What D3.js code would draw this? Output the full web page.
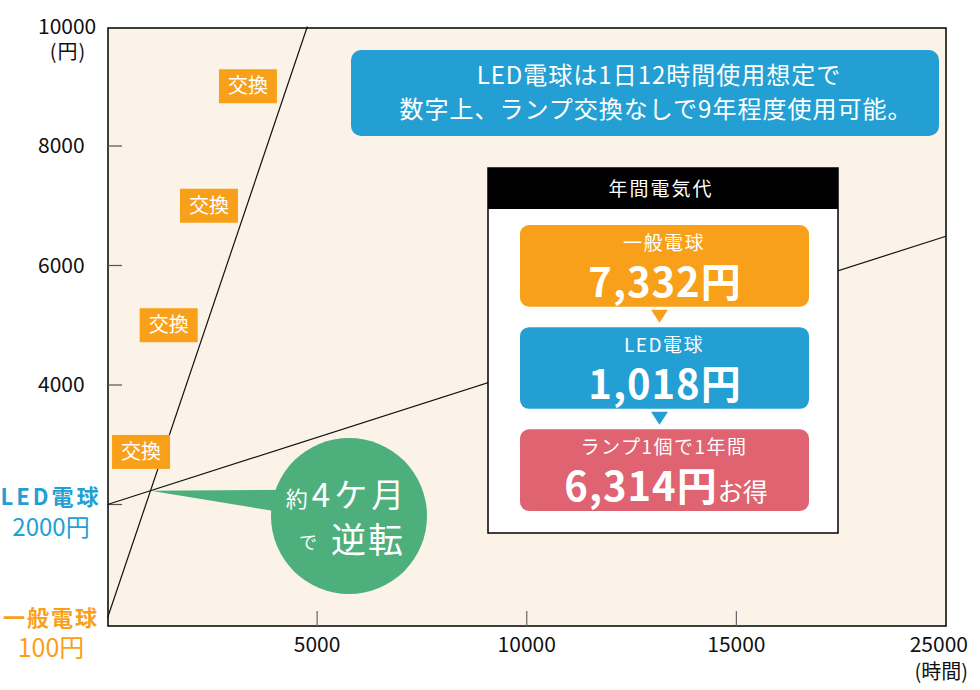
<!DOCTYPE html>
<html><head><meta charset="utf-8">
<script src="https://cdn.jsdelivr.net/npm/d3@7"></script>
<style>
html,body{margin:0;padding:0;background:#fff;}
svg{display:block;font-family:"Noto Sans CJK JP","Noto Sans",sans-serif;}
</style></head>
<body><svg id="c" width="980" height="690"></svg>
<script>
// ---- data ----
const yTicks = [4000, 6000, 8000, 10000];
const yTickMarks = [2000, 4000, 6000, 8000];
const xTicks = [5000, 10000, 15000, 20000];
const xTickLabels = ["5000", "10000", "15000", "25000"];
const generalLine = [{h: 0, v: 100}, {h: 4767, v: 10000}];
const ledLine = [{h: 0, v: 2000}, {h: 20000, v: 6490}];
const exchangePoints = [{h: 3350, v: 9000}, {h: 2420, v: 7000}, {h: 1460, v: 5000}, {h: 800, v: 2880}];
const costNames = ["一般電球", "LED電球", "ランプ1個で1年間"];
const costValues = [7332, 1018, 6314];
const costColors = ["#f9a01a", "#239fd3", "#df6370"];

// ---- setup ----
const svg = d3.select("#c");
const x = d3.scaleLinear().domain([0, 20000]).range([107.5, 946]);
const y = d3.scaleLinear().domain([0, 10000]).range([624, 26.5]);

// plot frame
svg.append("rect").attr("x", 108).attr("y", 28).attr("width", 838).attr("height", 598)
  .attr("fill", "#fbf3e7").attr("stroke", "#000").attr("stroke-width", 1.5);

// ticks
svg.append("g").selectAll("line").data(yTickMarks).join("line")
  .attr("x1", 108).attr("x2", 122).attr("y1", d => y(d)).attr("y2", d => y(d))
  .attr("stroke", "#555").attr("stroke-width", 1.2);
svg.append("g").selectAll("line").data(xTicks.slice(0, 3)).join("line")
  .attr("x1", d => x(d)).attr("x2", d => x(d)).attr("y1", 611).attr("y2", 626)
  .attr("stroke", "#666").attr("stroke-width", 1.2);

// tick labels
svg.append("g").selectAll("text").data(yTicks).join("text")
  .attr("x", 38).attr("y", d => y(d) + 7).attr("font-size", 21).attr("fill", "#111")
  .text(d => d);
svg.append("text").attr("x", 68).attr("y", 59).attr("text-anchor", "middle")
  .attr("font-size", 20).attr("letter-spacing", 1).attr("fill", "#111").text("(円)");
svg.append("g").selectAll("text").data(xTicks).join("text")
  .attr("x", (d, i) => i === 3 ? 968 : x(d)).attr("y", 652)
  .attr("text-anchor", (d, i) => i === 3 ? "end" : "middle")
  .attr("font-size", 21).attr("fill", "#111")
  .text((d, i) => xTickLabels[i]);
svg.append("text").attr("x", 968).attr("y", 679).attr("text-anchor", "end")
  .attr("font-size", 20).attr("fill", "#111").text("(時間)");

// side labels
svg.append("text").attr("x", 51).attr("y", 505).attr("text-anchor", "middle")
  .attr("font-size", 22).attr("font-weight", "bold").attr("letter-spacing", 3)
  .attr("fill", "#239fd3").text("LED電球");
svg.append("text").attr("x", 51).attr("y", 536).attr("text-anchor", "middle")
  .attr("font-size", 24).attr("fill", "#239fd3").text("2000円");
svg.append("text").attr("x", 51).attr("y", 626).attr("text-anchor", "middle")
  .attr("font-size", 22).attr("font-weight", "bold").attr("letter-spacing", 2)
  .attr("fill", "#f9a01a").text("一般電球");
svg.append("text").attr("x", 51).attr("y", 657).attr("text-anchor", "middle")
  .attr("font-size", 25).attr("fill", "#f9a01a").text("100円");

// lines
const line = d3.line().x(d => x(d.h)).y(d => y(d.v));
svg.append("path").datum(generalLine).attr("d", line).attr("fill", "none")
  .attr("stroke", "#111").attr("stroke-width", 1.2);
svg.append("path").datum(ledLine).attr("d", line).attr("fill", "none")
  .attr("stroke", "#111").attr("stroke-width", 1.2);

// intersection
const sG = (generalLine[1].v - generalLine[0].v) / (generalLine[1].h - generalLine[0].h);
const sL = (ledLine[1].v - ledLine[0].v) / (ledLine[1].h - ledLine[0].h);
const hI = (ledLine[0].v - generalLine[0].v) / (sG - sL);
const vI = generalLine[0].v + sG * hI;
const px = x(hI), py = y(vI);

// exchange labels
const ex = svg.append("g").selectAll("g").data(exchangePoints).join("g")
  .attr("transform", d => `translate(${x(d.h)},${y(d.v)})`);
ex.append("rect").attr("x", -29).attr("y", -17).attr("width", 58).attr("height", 34).attr("fill", "#f9a01a");
ex.append("text").attr("text-anchor", "middle").attr("y", 7).attr("font-size", 20)
  .attr("fill", "#fff").text("交換");

// green bubble
const cx = 349, cy = 516, r = 78;
svg.append("path").attr("d", `M${px},${py}L${cx - 40},${py - 1}L${cx - 40},${py + 26}Z`).attr("fill", "#4caf7c");
svg.append("circle").attr("cx", cx).attr("cy", cy).attr("r", r).attr("fill", "#4caf7c");
const t1 = svg.append("text").attr("x", cx - 2).attr("y", 507).attr("text-anchor", "middle").attr("fill", "#fff");
t1.append("tspan").attr("font-size", 22).text("約");
t1.append("tspan").attr("font-size", 33).attr("dx", 4).attr("letter-spacing", 4).text("4ケ月");
const t2 = svg.append("text").attr("x", cx + 3).attr("y", 553).attr("text-anchor", "middle").attr("fill", "#fff");
t2.append("tspan").attr("font-size", 18).attr("dy", -4).text("で");
t2.append("tspan").attr("font-size", 35).attr("dx", 14).attr("dy", 4).attr("letter-spacing", 2).text("逆転");

// blue info box
svg.append("rect").attr("x", 351).attr("y", 50).attr("width", 588).attr("height", 86).attr("rx", 10)
  .attr("fill", "#239fd3");
svg.append("text").attr("x", 659).attr("y", 84).attr("text-anchor", "middle").attr("font-size", 24)
  .attr("letter-spacing", 1).attr("fill", "#fff").text("LED電球は1日12時間使用想定で");
svg.append("text").attr("x", 656).attr("y", 118).attr("text-anchor", "middle").attr("font-size", 24)
  .attr("letter-spacing", 1).attr("fill", "#fff").text("数字上、ランプ交換なしで9年程度使用可能。");

// annual cost panel
svg.append("rect").attr("x", 488).attr("y", 168).attr("width", 350).attr("height", 365)
  .attr("fill", "#fff").attr("stroke", "#000").attr("stroke-width", 1.5);
svg.append("rect").attr("x", 488).attr("y", 168).attr("width", 350).attr("height", 41).attr("fill", "#000");
svg.append("text").attr("x", 661).attr("y", 196).attr("text-anchor", "middle").attr("font-size", 19)
  .attr("letter-spacing", 2).attr("fill", "#fff").text("年間電気代");

const band = d3.scaleBand().domain(costNames).range([225, 511]).paddingInner(0.2);
const fmt = d3.format(",");
const cg = svg.append("g").selectAll("g").data(costNames).join("g")
  .attr("transform", d => `translate(520,${band(d)})`);
cg.append("rect").attr("width", 289).attr("height", band.bandwidth()).attr("rx", 9)
  .attr("fill", (d, i) => costColors[i]);
cg.append("text").attr("x", 144).attr("y", 25).attr("text-anchor", "middle").attr("font-size", 19)
  .attr("letter-spacing", 1.5).attr("fill", "#fff").text(d => d);
const big = cg.append("text").attr("x", (d, i) => i === 2 ? 146 : 145).attr("y", 72).attr("text-anchor", "middle")
  .attr("fill", "#fff");
big.append("tspan").attr("font-size", 40).attr("font-weight", "bold").attr("letter-spacing", 1)
  .text((d, i) => fmt(costValues[i]) + "円");
big.filter((d, i) => i === 2).append("tspan").attr("font-size", 25).text("お得");
// arrows
svg.append("g").selectAll("path").data(costNames.slice(0, 2)).join("path")
  .attr("d", d => { const b = band(d) + band.bandwidth() + 3; return `M651,${b}L668,${b}L659.5,${b + 13}Z`; })
  .attr("fill", (d, i) => costColors[i]);
</script></body></html>
